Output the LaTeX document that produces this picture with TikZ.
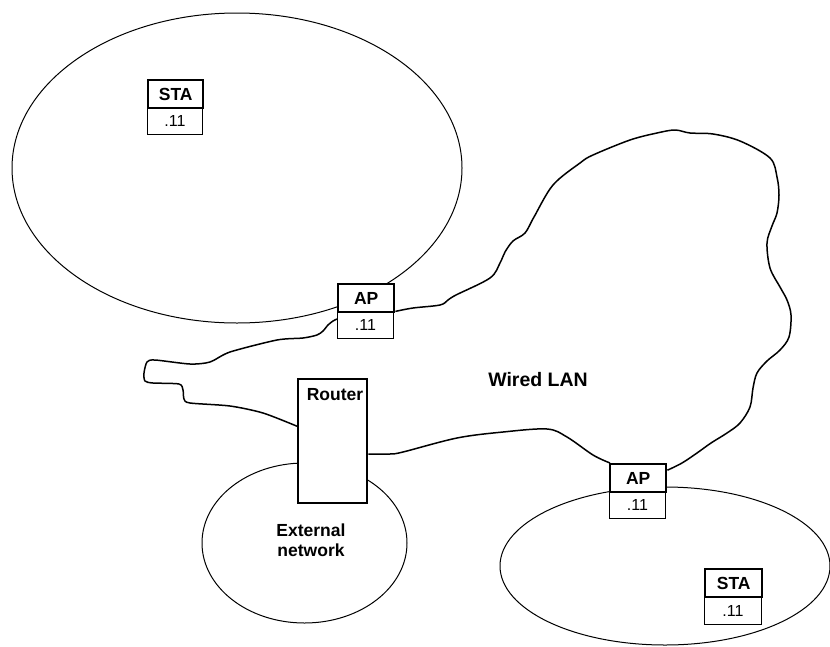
\documentclass[tikz,border=0pt]{standalone}
\usepackage{fontspec}
\setmainfont{Liberation Sans}
\begin{document}
\begin{tikzpicture}[x=1pt,y=-1pt,
  cell/.style={draw, line width=1pt, minimum width=56pt, minimum height=27pt, inner sep=0pt, anchor=north west, font=\fontsize{16}{18}\selectfont},
  head/.style={draw, line width=2.4pt, minimum width=56pt, minimum height=28pt, inner sep=0pt, anchor=north west, font=\fontsize{17.5}{20}\selectfont\bfseries},
  cellline/.style={line width=1pt},
  wire/.style={line width=1.5pt, line join=round},
  lbl/.style={font=\fontsize{17.5}{21}\selectfont\bfseries, align=center, inner sep=0pt}
]
\useasboundingbox (0,0) rectangle (830,646);
\fill[white] (0,0) rectangle (830,646);

% cells (ellipses)
\draw[cellline] (237,168) ellipse [x radius=225, y radius=155];
\draw[cellline] (665,566) ellipse [x radius=165, y radius=79];
\draw[cellline] (304.5,543) ellipse [x radius=102.5, y radius=80];

% router
\node[draw, fill=white, line width=2.4pt, minimum width=69pt, minimum height=124pt, inner sep=0pt, anchor=north west] (router) at (297,378) {};
\node[lbl] (routerlbl) at (335,395) {Router};

% AP 1
\node[cell, fill=white, minimum width=56pt] (ap1b) at (337,311) {.11};
\node[head, fill=white, minimum width=56pt] (ap1) at (337,283) {AP};
% AP 2
\node[cell, fill=white, minimum width=56pt] (ap2b) at (609,491) {.11};
\node[head, fill=white, minimum width=56pt] (ap2) at (609,463) {AP};
% STA 1
\node[cell, fill=white, minimum width=55pt] (sta1b) at (147,107) {.11};
\node[head, fill=white, minimum width=55pt] (sta1) at (147,79) {STA};
% STA 2
\node[cell, fill=white, minimum width=57pt] (sta2b) at (704,597) {.11};
\node[head, fill=white, minimum width=57pt] (sta2) at (704,568) {STA};

% wired LAN outline
\draw[wire] plot[smooth, tension=0.55] coordinates {
 ([yshift=2pt]ap1.south east) (413,308) (440,305) (448,300) (456,295) (490,278) (500,263) (505,252) (513,241) (525,233) (534,217) (553,185) (580,163) (593,155) (630,140) (657,133) (675,130) (690,133) (713,134) (740,141) (770,158) (777,177) (779,195) (777,213) (772,226) (767,243) (770,268) (780,287) (787,300) (791,315) (789,337) (780,350) (767,361) (757,373) (753,388) (750,407) (740,423) (727,433) (711,443) (697,453) (682,463) ([yshift=8pt]ap2.east)};
\draw[wire] plot[smooth, tension=0.55] coordinates {
 ([xshift=1pt]ap2.north west) (593,455) (567,437) (547,429) (503,432) (457,438) (403,452) (390,454) ([yshift=-13pt]router.east)};
\draw[wire] plot[smooth, tension=0.45] coordinates {
 ([yshift=15pt]router.west) (263,413) (230,406) (190,403) (184,399) (183,390) (179,384) (153,383) (145,381) (144,373) (147,362) (155,360) (190,364) (210,362) (230,352) (277,340) (303,338) (317,335) (323,331) (328,325) (333,321) ([yshift=-8pt]ap1b.north west)};

% labels
\node[lbl, font=\fontsize{19.5}{22}\selectfont\bfseries] (wlan) at (538,380) {Wired LAN};
\node[lbl] (ext) at (311,540) {External\\[-1pt]network};
\end{tikzpicture}
\end{document}
